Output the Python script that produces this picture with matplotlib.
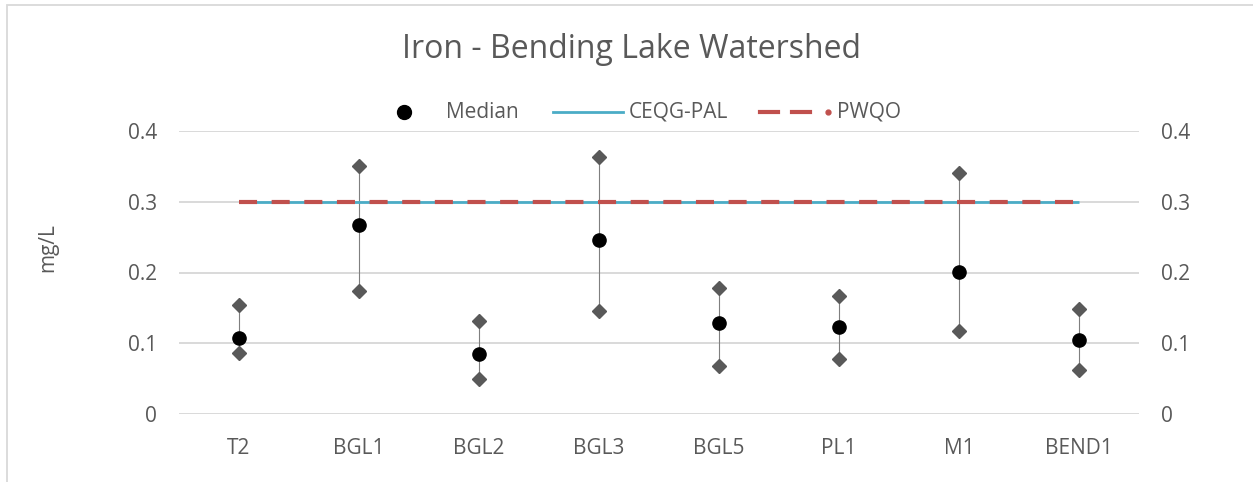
import matplotlib
matplotlib.use("Agg")
import matplotlib.pyplot as plt
from matplotlib.lines import Line2D
from matplotlib.patches import Rectangle

# ---- data ----
sites = ["T2", "BGL1", "BGL2", "BGL3", "BGL5", "PL1", "M1", "BEND1"]
median_vals = [0.108, 0.267, 0.085, 0.246, 0.129, 0.123, 0.201, 0.104]
max_vals = [0.154, 0.350, 0.132, 0.363, 0.178, 0.167, 0.341, 0.149]
min_vals = [0.086, 0.174, 0.049, 0.146, 0.068, 0.078, 0.118, 0.062]
ceqg_pal = [0.3] * len(sites)
pwqo = [0.3] * len(sites)
yticks = [0, 0.1, 0.2, 0.3, 0.4]
ytick_labels = ["0", "0.1", "0.2", "0.3", "0.4"]
title = "Iron - Bending Lake Watershed"
ylabel = "mg/L"

W, H = 1253, 482
plt.rcParams['font.family'] = ['Open Sans', 'DejaVu Sans']
plt.rcParams['lines.scale_dashes'] = False
TXT = '#595959'
GRID = '#d9d9d9'
FS = 15

fig = plt.figure(figsize=(W / 100, H / 100), dpi=100)
def fx(px): return px / W
def fy(py): return 1 - py / H

ax = fig.add_axes([fx(179), fy(414), fx(1139) - fx(179), fy(131) - fy(414)])
x = list(range(len(sites)))
ax.set_xlim(-0.5, len(sites) - 0.5)
ax.set_ylim(0, 0.4)

for v in yticks:
    ax.axhline(v, color=GRID, lw=1.4, zorder=0)

ax.vlines(x, min_vals, max_vals, color='#7f7f7f', lw=0.8, zorder=2)
ax.plot(x, ceqg_pal, color='#4bacc6', lw=2.0, zorder=3, solid_capstyle='butt')
ax.plot(x, pwqo, color='#c0504d', lw=3.0, zorder=4, dashes=(13, 10.5),
        dash_capstyle='butt')
ax.plot(x, max_vals, 'D', color='#595959', ms=7.2, mec='#595959', zorder=5, ls='none')
ax.plot(x, min_vals, 'D', color='#595959', ms=7.2, mec='#595959', zorder=5, ls='none')
ax.plot(x, median_vals, 'o', color='black', ms=9.5, zorder=6, ls='none')

for s in ax.spines.values():
    s.set_visible(False)
ax.set_xticks(x)
ax.set_xticklabels(sites)
ax.set_yticks(yticks)
ax.set_yticklabels(ytick_labels)
ax.tick_params(axis='both', length=0, labelsize=FS, labelcolor=TXT)
ax.tick_params(axis='x', pad=17)
ax.tick_params(axis='y', pad=16)

ax2 = ax.twinx()
ax2.set_ylim(0, 0.4)
ax2.set_yticks(yticks)
ax2.set_yticklabels(ytick_labels)
ax2.tick_params(axis='y', length=0, labelsize=FS, labelcolor=TXT, pad=16)
for s in ax2.spines.values():
    s.set_visible(False)

fig.text(fx(631), fy(50), title, ha='center', va='center', fontsize=23, color=TXT)
fig.text(fx(48), fy(248), ylabel, ha='center', va='center', rotation=90,
         fontsize=FS, color=TXT)

# legend (manual, Excel style)
ly = fy(112)
fig.add_artist(Line2D([fx(404)], [ly], marker='o', color='black', ms=10, ls='none'))
fig.text(fx(446), ly, "Median", ha='left', va='center', fontsize=FS, color=TXT)
fig.add_artist(Line2D([fx(553), fx(623)], [ly, ly], color='#4bacc6', lw=2.0))
fig.text(fx(629), ly, "CEQG-PAL", ha='left', va='center', fontsize=FS, color=TXT)
fig.add_artist(Line2D([fx(760), fx(778)], [ly, ly], color='#c0504d', lw=3.0))
fig.add_artist(Line2D([fx(792), fx(810)], [ly, ly], color='#c0504d', lw=3.0))
fig.add_artist(Line2D([fx(828)], [ly], marker='o', color='#c0504d', ms=3.5, ls='none'))
fig.text(fx(837), ly, "PWQO", ha='left', va='center', fontsize=FS, color=TXT)

fig.add_artist(Rectangle((fx(7), fy(490)), fx(1270) - fx(7), fy(5) - fy(490),
                         fill=False, ec=GRID, lw=1.3, transform=fig.transFigure))

fig.savefig("out.png", dpi=100, facecolor='white')
